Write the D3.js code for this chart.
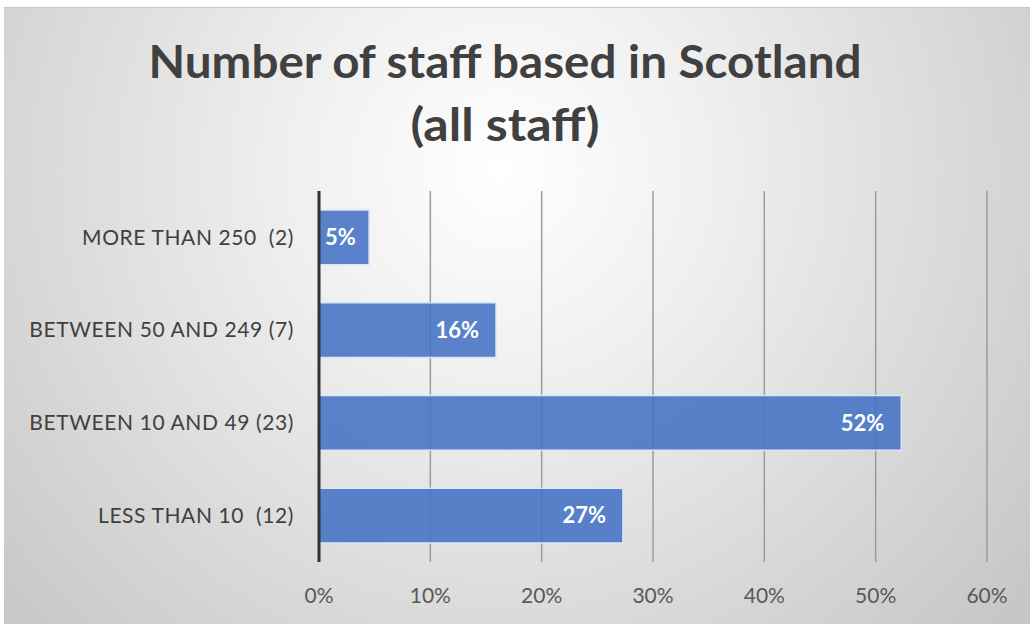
<!DOCTYPE html>
<html>
<head>
<meta charset="utf-8">
<script src="https://cdn.jsdelivr.net/npm/d3@7"></script>
<style>
  body { margin: 0; background: #fff; }
  text { font-family: Lato, "Open Sans", sans-serif; white-space: pre; }
</style>
</head>
<body>
<div id="chart"></div>
<script>
var categories = ['MORE THAN 250  (2)', 'BETWEEN 50 AND 249 (7)', 'BETWEEN 10 AND 49 (23)', 'LESS THAN 10  (12)'];
var values = [0.045, 0.159, 0.523, 0.273];
var valueLabels = ['5%', '16%', '52%', '27%'];
var ticks = [0, 0.1, 0.2, 0.3, 0.4, 0.5, 0.6];
var titleLines = ['Number of staff based in Scotland', '(all staff)'];

var W = 1030, H = 624;

var svg = d3.select('#chart').append('svg')
    .attr('width', W)
    .attr('height', H);

var defs = svg.append('defs');
var grad = defs.append('radialGradient')
    .attr('id', 'bg')
    .attr('gradientUnits', 'userSpaceOnUse')
    .attr('cx', 500).attr('cy', 170).attr('r', 680);
grad.append('stop').attr('offset', '0').attr('stop-color', '#ffffff');
grad.append('stop').attr('offset', '0.3').attr('stop-color', '#f0f0f0');
grad.append('stop').attr('offset', '1').attr('stop-color', '#c6c6c6');

// chart area
svg.append('rect')
    .attr('x', 4).attr('y', 7)
    .attr('width', W - 4).attr('height', H - 7)
    .attr('fill', 'url(#bg)');
svg.append('line')
    .attr('x1', 4).attr('x2', W)
    .attr('y1', 7.5).attr('y2', 7.5)
    .attr('stroke', '#c8c8c8');

// title
var titleY = [78, 141];
var titleW = [713, 189];
svg.selectAll('.title')
    .data(titleLines)
    .enter()
    .append('text')
    .attr('class', 'title')
    .attr('x', 505)
    .attr('y', function(d, i) { return titleY[i]; })
    .attr('text-anchor', 'middle')
    .attr('textLength', function(d, i) { return titleW[i]; })
    .attr('lengthAdjust', 'spacingAndGlyphs')
    .style('font-size', '46px')
    .style('font-weight', 'bold')
    .style('fill', '#404040')
    .text(function(d) { return d; });

var plotTop = 191, plotBottom = 562;

var x = d3.scaleLinear().domain([0, 0.6]).range([319, 987]);
var y = d3.scaleBand().domain(categories).range([plotTop, plotBottom])
    .paddingInner(0.41).paddingOuter(0.205);

// gridlines
svg.append('g')
    .selectAll('line')
    .data(ticks.slice(1))
    .enter()
    .append('line')
    .attr('x1', function(d) { return x(d); })
    .attr('x2', function(d) { return x(d); })
    .attr('y1', plotTop).attr('y2', plotBottom)
    .attr('stroke', '#9c9c9c')
    .attr('stroke-width', 1.5);

// bars
svg.append('g')
    .selectAll('rect')
    .data(values)
    .enter()
    .append('rect')
    .attr('x', x(0))
    .attr('y', function(d, i) { return y(categories[i]); })
    .attr('width', function(d) { return x(d) - x(0); })
    .attr('height', y.bandwidth())
    .attr('fill', '#4472c4')
    .attr('fill-opacity', 0.88)
    .attr('stroke', '#dbe6f7')
    .attr('stroke-width', 1.5);

// axis line at 0
svg.append('line')
    .attr('x1', x(0)).attr('x2', x(0))
    .attr('y1', plotTop).attr('y2', plotBottom)
    .attr('stroke', '#333')
    .attr('stroke-width', 3);

// value labels
svg.append('g')
    .selectAll('text')
    .data(values)
    .enter()
    .append('text')
    .attr('y', function(d, i) { return y(categories[i]) + y.bandwidth() / 2; })
    .attr('dy', '0.35em')
    .attr('text-anchor', 'end')
    .style('font-size', '22px')
    .style('font-weight', 'bold')
    .style('fill', '#ffffff')
    .text(function(d, i) { return valueLabels[i]; })
    .attr('x', function(d) {
        var w = this.getComputedTextLength();
        return Math.max(x(d) - 17, x(0) + 6 + w);
    });

// category labels
svg.append('g')
    .selectAll('text')
    .data(categories)
    .enter()
    .append('text')
    .attr('x', 294)
    .attr('y', function(d) { return y(d) + y.bandwidth() / 2; })
    .attr('dy', '0.35em')
    .attr('text-anchor', 'end')
    .style('font-size', '21px')
    .style('letter-spacing', '0.6px')
    .style('fill', '#404040')
    .text(function(d) { return d; });

// x tick labels
svg.append('g')
    .selectAll('text')
    .data(ticks)
    .enter()
    .append('text')
    .attr('x', function(d) { return x(d); })
    .attr('y', 603)
    .attr('text-anchor', 'middle')
    .style('font-size', '21px')
    .style('fill', '#595959')
    .text(function(d) { return d3.format('.0%')(d); });
</script>
</body>
</html>
